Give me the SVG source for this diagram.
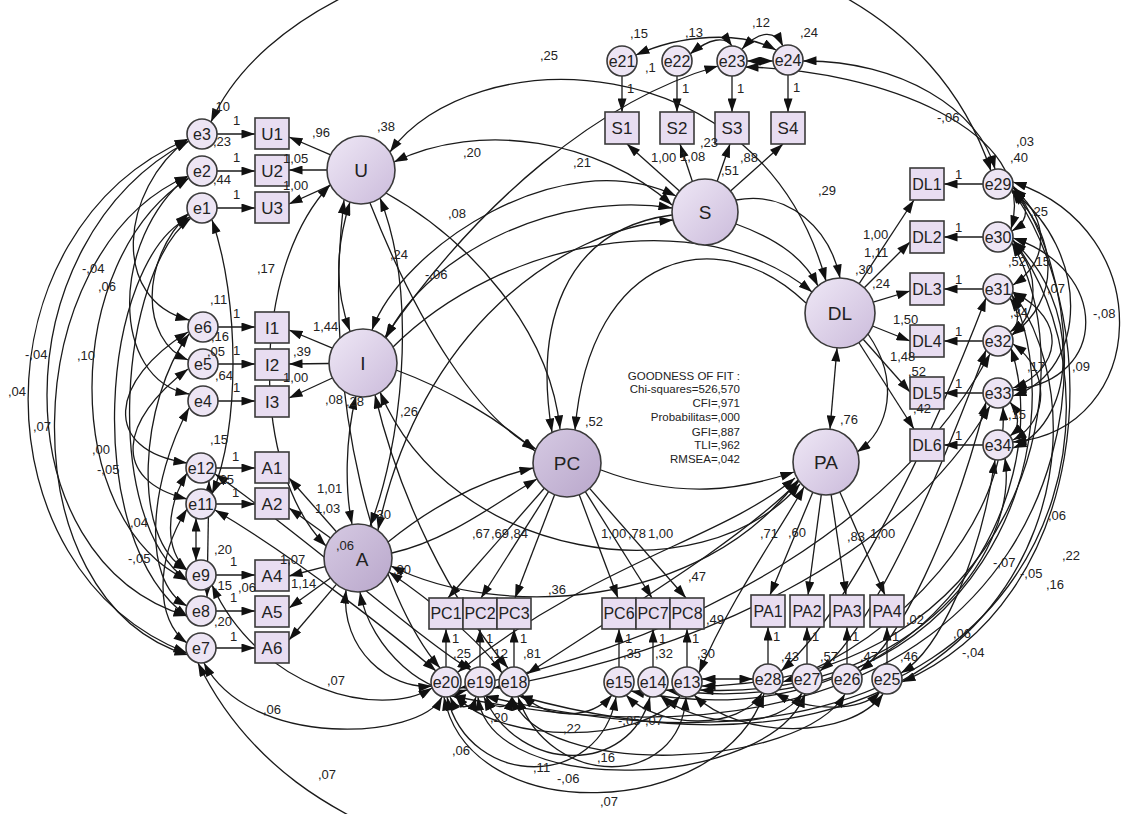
<svg xmlns="http://www.w3.org/2000/svg" width="1125" height="814" viewBox="0 0 1125 814">
<defs>
<marker id="ah" viewBox="0 0 12 8" refX="12" refY="4" markerWidth="14" markerHeight="9" markerUnits="userSpaceOnUse" orient="auto-start-reverse"><path d="M0,0L12,4L0,8z" fill="#111"/></marker>
<linearGradient id="lg" x1="0" y1="0" x2="1" y2="1"><stop offset="0" stop-color="#efe8f6"/><stop offset="1" stop-color="#cbbbdb"/></linearGradient>
<linearGradient id="lg2" x1="0" y1="0" x2="1" y2="1"><stop offset="0" stop-color="#d6cae3"/><stop offset="1" stop-color="#b9a7cb"/></linearGradient>
<style>
.c{fill:none;stroke:#1a1a1a;stroke-width:1.3}
.s{marker-end:url(#ah)}
.d{marker-start:url(#ah);marker-end:url(#ah)}
.st{marker-start:url(#ah)}
.bx{fill:#e8ddf1;stroke:#3a3a3a;stroke-width:1.6}
.ec{fill:#ede5f4;stroke:#3a3a3a;stroke-width:1.6}
.lc{fill:url(#lg);stroke:#3a3a3a;stroke-width:1.6}
.lc2{fill:url(#lg2);stroke:#3a3a3a;stroke-width:1.6}
text{font-family:"Liberation Sans",Arial,sans-serif;fill:#222}
.n{font-size:17px;text-anchor:middle}
.n2{font-size:16px;text-anchor:middle}
.e{font-size:16px;text-anchor:middle}
.lv{font-size:19px;text-anchor:middle}
.k{font-size:13px}
.g{font-size:11.5px;text-anchor:end}
</style>
</defs>
<rect width="1125" height="814" fill="#ffffff"/>
<g id="connectors">
<path class="c s" d="M217,134 L255,134"/>
<path class="c s" d="M217,171 L255,171"/>
<path class="c s" d="M217,208 L255,208"/>
<path class="c s" d="M218,327 L255,327"/>
<path class="c s" d="M218,364 L255,364"/>
<path class="c s" d="M218,401 L255,401"/>
<path class="c s" d="M216,468 L255,468"/>
<path class="c s" d="M216,504 L255,504"/>
<path class="c s" d="M216,575 L255,575"/>
<path class="c s" d="M216,611 L255,611"/>
<path class="c s" d="M216,648 L255,648"/>
<path class="c s" d="M622,76 L622,112"/>
<path class="c s" d="M677,76 L677,112"/>
<path class="c s" d="M732,76 L732,112"/>
<path class="c s" d="M788,75 L788,112"/>
<path class="c s" d="M983,184 L944,184"/>
<path class="c s" d="M983,237 L944,237"/>
<path class="c s" d="M983,289 L944,289"/>
<path class="c s" d="M983,341 L944,341"/>
<path class="c s" d="M983,393 L944,393"/>
<path class="c s" d="M983,445 L944,445"/>
<path class="c s" d="M446,667 L446,629"/>
<path class="c s" d="M480,667 L480,629"/>
<path class="c s" d="M514,667 L514,629"/>
<path class="c s" d="M619,667 L619,629"/>
<path class="c s" d="M653,667 L653,629"/>
<path class="c s" d="M687,667 L687,629"/>
<path class="c s" d="M768,664 L768,627"/>
<path class="c s" d="M807,664 L807,627"/>
<path class="c s" d="M847,664 L847,627"/>
<path class="c s" d="M887,664 L887,627"/>
<path class="c s" d="M330.6,154.8 L289,137"/>
<path class="c s" d="M327,170 L289,170"/>
<path class="c s" d="M330.6,185.2 L289,204"/>
<path class="c s" d="M332.4,348.1 L289,330"/>
<path class="c s" d="M329,363.5 L289,364"/>
<path class="c s" d="M332.4,378 L289,398"/>
<path class="c s" d="M336.4,531.7 L289,478"/>
<path class="c s" d="M330.5,538 L289,508"/>
<path class="c s" d="M325.1,566.6 L289,576"/>
<path class="c s" d="M330.5,578 L289,608"/>
<path class="c s" d="M336.4,584.3 L289,640"/>
<path class="c s" d="M679.5,191.1 L627,144"/>
<path class="c s" d="M692.4,181.5 L680,144"/>
<path class="c s" d="M717.2,181.3 L730,144"/>
<path class="c s" d="M730.5,191.1 L783,144"/>
<path class="c s" d="M859.2,283.7 L914,200"/>
<path class="c s" d="M864.3,287.7 L910,242"/>
<path class="c s" d="M873.2,302.1 L910,291"/>
<path class="c s" d="M872.5,326 L910,341"/>
<path class="c s" d="M863.2,339.2 L910,392"/>
<path class="c s" d="M858.8,342.5 L914,429"/>
<path class="c s" d="M812.8,492.3 L770,595"/>
<path class="c s" d="M821.3,494.7 L808,595"/>
<path class="c s" d="M831.1,494.6 L846,595"/>
<path class="c s" d="M839.8,492 L885,595"/>
<path class="c s" d="M544.3,488.3 L448,598"/>
<path class="c s" d="M548.6,491.6 L481,598"/>
<path class="c s" d="M554.6,494.7 L515,598"/>
<path class="c s" d="M579.2,494.7 L618,598"/>
<path class="c s" d="M585.3,491.7 L652,598"/>
<path class="c s" d="M589.6,488.4 L686,598"/>
<path class="c s" d="M386,193 C470,240 550,330 560,429"/>
<path class="c s" d="M672,215 C560,230 535,330 552,432"/>
<path class="c s" d="M806,303 C720,220 590,250 575,430"/>
<path class="c s" d="M396,370 C450,390 500,420 535,451"/>
<path class="c s" d="M388,542 C440,500 490,478 533,468"/>
<path class="c s" d="M370,203 C420,330 480,420 536,449"/>
<path class="c s" d="M392,553 C450,540 500,500 537,479"/>
<path class="c d" d="M386,338 C430,250 560,190 672,208"/>
<path class="c d" d="M372,330 C400,250 560,140 676,196"/>
<path class="c d" d="M394,162 C480,120 600,140 672,205"/>
<path class="c d" d="M390,152 C470,40 760,40 826,281"/>
<path class="c d" d="M378,530 C420,330 560,230 673,220"/>
<path class="c d" d="M350,202 C335,250 335,290 350,331"/>
<path class="c d" d="M330,185 C250,270 250,470 326,546"/>
<path class="c d" d="M356,396 C345,440 345,490 352,524"/>
<path class="c d" d="M380,198 C420,300 400,450 370,526"/>
<path class="c s" d="M393,347 C500,240 700,200 812,292"/>
<path class="c s" d="M736,224 C780,240 805,260 818,286"/>
<path class="c s" d="M736,200 C790,190 830,230 840,278"/>
<path class="c d" d="M837,348 L830,429"/>
<path class="c s" d="M868,334 C900,380 890,430 857,452"/>
<path class="c s" d="M601,470 C680,500 740,490 794,472"/>
<path class="c d" d="M391,566 C500,620 700,610 798,480"/>
<path class="c d" d="M380,392 C450,560 700,600 800,484"/>
<path class="c d" d="M718,66 C600,100 480,200 385,337"/>
<path class="c d" d="M188,139 C-25,230 -25,570 187,653"/>
<path class="c d" d="M189,141 C0,240 0,560 187,616"/>
<path class="c d" d="M188,176 C15,250 5,600 188,655"/>
<path class="c d" d="M189,178 C60,260 60,520 187,580"/>
<path class="c d" d="M190,217 C100,260 80,540 188,617"/>
<path class="c d" d="M191,218 C120,270 100,520 188,581"/>
<path class="c d" d="M188,139 C120,190 110,300 189,320"/>
<path class="c d" d="M188,176 C110,240 110,380 189,394"/>
<path class="c d" d="M189,213 C140,260 140,340 188,360"/>
<path class="c d" d="M188,332 C110,380 100,450 187,463"/>
<path class="c d" d="M188,369 C120,420 110,480 187,499"/>
<path class="c d" d="M189,334 C140,400 130,540 187,570"/>
<path class="c d" d="M189,408 C150,480 140,580 187,606"/>
<path class="c d" d="M187,473 C165,510 165,550 187,570"/>
<path class="c d" d="M187,509 C155,560 155,620 187,643"/>
<path class="c d" d="M196,518 L196,561"/>
<path class="c d" d="M209,481 L207,597"/>
<path class="c d" d="M212,220 C240,300 240,430 212,494"/>
<path class="c d" d="M215,510 C300,560 400,640 436,671"/>
<path class="c d" d="M215,474 C310,540 420,640 471,670"/>
<path class="c d" d="M212,585 C260,690 380,720 432,688"/>
<path class="c d" d="M204,663 C250,750 420,740 442,697"/>
<path class="c st" d="M198,663 C250,770 340,814 400,840"/>
<path class="c d" d="M346,590 C340,650 390,690 432,686"/>
<path class="c d" d="M360,592 C370,650 430,700 467,690"/>
<path class="c d" d="M389,572 C430,600 480,640 502,673"/>
<path class="c d" d="M375,395 C400,500 450,600 508,668"/>
<path class="c d" d="M344,200 C320,400 380,600 440,668"/>
<path class="c d" d="M1012,190 C1110,330 1090,600 902,682"/>
<path class="c d" d="M1012,243 C1090,380 1020,680 702,686"/>
<path class="c d" d="M1012,295 C1080,440 980,730 666,690"/>
<path class="c d" d="M1011,348 C1060,500 920,750 631,691"/>
<path class="c d" d="M1013,186 C1140,360 1060,820 452,696"/>
<path class="c d" d="M1013,240 C1150,420 1040,830 485,696"/>
<path class="c d" d="M1013,292 C1130,460 1000,830 519,696"/>
<path class="c d" d="M995,460 C980,560 940,650 901,673"/>
<path class="c d" d="M986,402 C950,540 900,640 860,671"/>
<path class="c d" d="M986,350 C930,500 870,630 820,671"/>
<path class="c d" d="M986,298 C920,470 840,620 781,671"/>
<path class="c d" d="M1003,407 C1010,520 900,640 783,682"/>
<path class="c d" d="M1005,458 C1020,560 900,700 700,690"/>
<path class="c d" d="M990,354 C900,520 700,640 460,688"/>
<path class="c d" d="M990,406 C900,560 700,650 494,688"/>
<path class="c d" d="M1012,190 C1030,205 1030,220 1012,231"/>
<path class="c d" d="M1013,188 C1050,220 1050,260 1013,285"/>
<path class="c d" d="M1012,192 C1060,240 1060,300 1012,335"/>
<path class="c d" d="M1013,182 C1160,230 1150,430 1013,442"/>
<path class="c d" d="M1013,238 C1110,270 1110,380 1013,390"/>
<path class="c d" d="M1012,243 C1040,270 1040,310 1012,335"/>
<path class="c d" d="M1013,292 C1070,320 1060,370 1013,388"/>
<path class="c d" d="M1010,298 C1020,312 1020,325 1010,332"/>
<path class="c d" d="M1013,344 C1050,370 1050,420 1013,440"/>
<path class="c d" d="M1010,402 C1020,415 1020,428 1010,436"/>
<path class="c d" d="M1013,241 C1080,300 1080,420 1013,448"/>
<path class="c d" d="M1012,191 C1090,250 1090,370 1013,396"/>
<path class="c d" d="M211,122 C310,-100 880,-160 991,171"/>
<path class="c d" d="M803,61 C900,60 980,110 995,169"/>
<path class="c d" d="M745,67 C880,70 1040,130 1011,229"/>
<path class="c d" d="M636,55 C680,35 740,30 776,50"/>
<path class="c d" d="M690,54 C710,38 725,36 732,46"/>
<path class="c d" d="M747,61 L773,61"/>
<path class="c d" d="M742,49 C760,30 775,30 783,46"/>
<path class="c d" d="M455,695 C500,745 640,745 680,696"/>
<path class="c d" d="M484,697 C520,775 630,775 650,697"/>
<path class="c d" d="M447,697 C470,790 600,790 616,697"/>
<path class="c d" d="M518,697 C550,790 680,790 686,697"/>
<path class="c d" d="M444,697 C470,830 720,820 764,694"/>
<path class="c d" d="M478,697 C490,800 770,790 805,694"/>
<path class="c d" d="M512,697 C540,780 800,770 845,694"/>
<path class="c d" d="M522,695 C550,720 590,720 612,695"/>
<path class="c d" d="M626,695 C660,730 740,730 762,693"/>
<path class="c d" d="M660,695 C700,730 780,730 802,693"/>
<path class="c d" d="M694,695 C740,740 850,740 883,694"/>
<path class="c d" d="M775,693 C810,712 860,712 880,692"/>
<path class="c d" d="M486,696 C492,710 508,710 512,697"/>
<path class="c d" d="M450,697 C456,710 472,710 476,697"/>
<path class="c d" d="M458,672 C600,560 720,540 795,478"/>
<path class="c d" d="M527,674 C640,600 740,540 799,481"/>
<path class="c d" d="M699,673 C730,600 780,530 804,487"/>
<path class="c d" d="M702,679 L753,679"/>
</g>
<g id="nodes">
<g id="U"><circle class="lc" cx="361" cy="170" r="34"/><text class="lv" x="361" y="177">U</text></g>
<g id="I"><circle class="lc" cx="363" cy="363" r="34"/><text class="lv" x="363" y="370">I</text></g>
<g id="A"><circle class="lc2" cx="358" cy="558" r="34"/><text class="lv" x="362" y="566">A</text></g>
<g id="PC"><circle class="lc2" cx="567" cy="463" r="34"/><text class="lv" x="567" y="470">PC</text></g>
<g id="S"><circle class="lc" cx="705" cy="212" r="33"/><text class="lv" x="705" y="219">S</text></g>
<g id="DL"><circle class="lc" cx="840" cy="313" r="35"/><text class="lv" x="840" y="320">DL</text></g>
<g id="PA"><circle class="lc" cx="826" cy="462" r="33"/><text class="lv" x="826" y="469">PA</text></g>
<g id="U1"><rect class="bx" x="255" y="118" width="34" height="31"/><text class="n" x="272" y="140">U1</text></g>
<g id="U2"><rect class="bx" x="255" y="155" width="34" height="31"/><text class="n" x="272" y="177">U2</text></g>
<g id="U3"><rect class="bx" x="255" y="192" width="34" height="31"/><text class="n" x="272" y="214">U3</text></g>
<g id="I1"><rect class="bx" x="255" y="312" width="34" height="31"/><text class="n" x="272" y="334">I1</text></g>
<g id="I2"><rect class="bx" x="255" y="349" width="34" height="31"/><text class="n" x="272" y="371">I2</text></g>
<g id="I3"><rect class="bx" x="255" y="386" width="34" height="31"/><text class="n" x="272" y="408">I3</text></g>
<g id="A1"><rect class="bx" x="255" y="452" width="34" height="31"/><text class="n" x="272" y="474">A1</text></g>
<g id="A2"><rect class="bx" x="255" y="488" width="34" height="31"/><text class="n" x="272" y="510">A2</text></g>
<g id="A4"><rect class="bx" x="255" y="560" width="34" height="31"/><text class="n" x="272" y="582">A4</text></g>
<g id="A5"><rect class="bx" x="255" y="596" width="34" height="31"/><text class="n" x="272" y="618">A5</text></g>
<g id="A6"><rect class="bx" x="255" y="632" width="34" height="31"/><text class="n" x="272" y="654">A6</text></g>
<g id="S1"><rect class="bx" x="605" y="112" width="34" height="32"/><text class="n" x="622" y="134">S1</text></g>
<g id="S2"><rect class="bx" x="660" y="112" width="34" height="32"/><text class="n" x="677" y="134">S2</text></g>
<g id="S3"><rect class="bx" x="715" y="112" width="34" height="32"/><text class="n" x="732" y="134">S3</text></g>
<g id="S4"><rect class="bx" x="771" y="112" width="34" height="32"/><text class="n" x="788" y="134">S4</text></g>
<g id="DL1"><rect class="bx" x="910" y="168" width="34" height="32"/><text class="n2" x="927" y="190">DL1</text></g>
<g id="DL2"><rect class="bx" x="910" y="221" width="34" height="32"/><text class="n2" x="927" y="243">DL2</text></g>
<g id="DL3"><rect class="bx" x="910" y="273" width="34" height="32"/><text class="n2" x="927" y="295">DL3</text></g>
<g id="DL4"><rect class="bx" x="910" y="325" width="34" height="32"/><text class="n2" x="927" y="347">DL4</text></g>
<g id="DL5"><rect class="bx" x="910" y="377" width="34" height="32"/><text class="n2" x="927" y="399">DL5</text></g>
<g id="DL6"><rect class="bx" x="910" y="429" width="34" height="32"/><text class="n2" x="927" y="451">DL6</text></g>
<g id="PC1"><rect class="bx" x="429" y="598" width="34" height="31"/><text class="n2" x="446" y="619">PC1</text></g>
<g id="PC2"><rect class="bx" x="463" y="598" width="34" height="31"/><text class="n2" x="480" y="619">PC2</text></g>
<g id="PC3"><rect class="bx" x="497" y="598" width="34" height="31"/><text class="n2" x="514" y="619">PC3</text></g>
<g id="PC6"><rect class="bx" x="602" y="598" width="34" height="31"/><text class="n2" x="619" y="619">PC6</text></g>
<g id="PC7"><rect class="bx" x="636" y="598" width="34" height="31"/><text class="n2" x="653" y="619">PC7</text></g>
<g id="PC8"><rect class="bx" x="670" y="598" width="34" height="31"/><text class="n2" x="687" y="619">PC8</text></g>
<g id="PA1"><rect class="bx" x="751" y="595" width="34" height="32"/><text class="n2" x="768" y="617">PA1</text></g>
<g id="PA2"><rect class="bx" x="790" y="595" width="34" height="32"/><text class="n2" x="807" y="617">PA2</text></g>
<g id="PA3"><rect class="bx" x="830" y="595" width="34" height="32"/><text class="n2" x="847" y="617">PA3</text></g>
<g id="PA4"><rect class="bx" x="870" y="595" width="34" height="32"/><text class="n2" x="887" y="617">PA4</text></g>
<g id="e3"><circle class="ec" cx="202" cy="134" r="15"/><text class="e" x="202" y="140">e3</text></g>
<g id="e2"><circle class="ec" cx="202" cy="171" r="15"/><text class="e" x="202" y="177">e2</text></g>
<g id="e1"><circle class="ec" cx="202" cy="208" r="15"/><text class="e" x="202" y="214">e1</text></g>
<g id="e6"><circle class="ec" cx="203" cy="327" r="15"/><text class="e" x="203" y="333">e6</text></g>
<g id="e5"><circle class="ec" cx="203" cy="364" r="15"/><text class="e" x="203" y="370">e5</text></g>
<g id="e4"><circle class="ec" cx="203" cy="401" r="15"/><text class="e" x="203" y="407">e4</text></g>
<g id="e12"><circle class="ec" cx="201" cy="468" r="15"/><text class="e" x="201" y="474">e12</text></g>
<g id="e11"><circle class="ec" cx="201" cy="504" r="15"/><text class="e" x="201" y="510">e11</text></g>
<g id="e9"><circle class="ec" cx="201" cy="575" r="15"/><text class="e" x="201" y="581">e9</text></g>
<g id="e8"><circle class="ec" cx="201" cy="611" r="15"/><text class="e" x="201" y="617">e8</text></g>
<g id="e7"><circle class="ec" cx="201" cy="648" r="15"/><text class="e" x="201" y="654">e7</text></g>
<g id="e21"><circle class="ec" cx="622" cy="61" r="15"/><text class="e" x="622" y="67">e21</text></g>
<g id="e22"><circle class="ec" cx="677" cy="61" r="15"/><text class="e" x="677" y="67">e22</text></g>
<g id="e23"><circle class="ec" cx="732" cy="61" r="15"/><text class="e" x="732" y="67">e23</text></g>
<g id="e24"><circle class="ec" cx="788" cy="60" r="15"/><text class="e" x="788" y="66">e24</text></g>
<g id="e29"><circle class="ec" cx="998" cy="184" r="15"/><text class="e" x="998" y="190">e29</text></g>
<g id="e30"><circle class="ec" cx="998" cy="237" r="15"/><text class="e" x="998" y="243">e30</text></g>
<g id="e31"><circle class="ec" cx="998" cy="289" r="15"/><text class="e" x="998" y="295">e31</text></g>
<g id="e32"><circle class="ec" cx="998" cy="341" r="15"/><text class="e" x="998" y="347">e32</text></g>
<g id="e33"><circle class="ec" cx="998" cy="393" r="15"/><text class="e" x="998" y="399">e33</text></g>
<g id="e34"><circle class="ec" cx="998" cy="445" r="15"/><text class="e" x="998" y="451">e34</text></g>
<g id="e20"><circle class="ec" cx="446" cy="682" r="15"/><text class="e" x="446" y="688">e20</text></g>
<g id="e19"><circle class="ec" cx="480" cy="682" r="15"/><text class="e" x="480" y="688">e19</text></g>
<g id="e18"><circle class="ec" cx="514" cy="682" r="15"/><text class="e" x="514" y="688">e18</text></g>
<g id="e15"><circle class="ec" cx="619" cy="682" r="15"/><text class="e" x="619" y="688">e15</text></g>
<g id="e14"><circle class="ec" cx="653" cy="682" r="15"/><text class="e" x="653" y="688">e14</text></g>
<g id="e13"><circle class="ec" cx="687" cy="682" r="15"/><text class="e" x="687" y="688">e13</text></g>
<g id="e28"><circle class="ec" cx="768" cy="679" r="15"/><text class="e" x="768" y="685">e28</text></g>
<g id="e27"><circle class="ec" cx="807" cy="679" r="15"/><text class="e" x="807" y="685">e27</text></g>
<g id="e26"><circle class="ec" cx="847" cy="679" r="15"/><text class="e" x="847" y="685">e26</text></g>
<g id="e25"><circle class="ec" cx="887" cy="679" r="15"/><text class="e" x="887" y="685">e25</text></g>
</g>
<g id="labels">
<text class="k" x="212" y="111">,10</text><text class="k" x="233" y="125">1</text><text class="k" x="213" y="146">,23</text>
<text class="k" x="233" y="162">1</text><text class="k" x="213" y="184">,44</text><text class="k" x="233" y="199">1</text>
<text class="k" x="312" y="137">,96</text><text class="k" x="283" y="163">1,05</text><text class="k" x="283" y="190">1,00</text><text class="k" x="377" y="131">,38</text>
<text class="k" x="390" y="259">,24</text><text class="k" x="257" y="273">,17</text><text class="k" x="210" y="304">,11</text>
<text class="k" x="233" y="318">1</text><text class="k" x="211" y="341">,16</text><text class="k" x="233" y="355">1</text>
<text class="k" x="207" y="356">,05</text><text class="k" x="215" y="380">,64</text><text class="k" x="233" y="392">1</text>
<text class="k" x="313" y="331">1,44</text><text class="k" x="293" y="356">,39</text><text class="k" x="283" y="382">1,00</text>
<text class="k" x="325" y="404">,08</text><text class="k" x="346" y="406">,28</text><text class="k" x="400" y="416">,26</text><text class="k" x="425" y="279">-,06</text>
<text class="k" x="210" y="444">,15</text><text class="k" x="232" y="461">1</text><text class="k" x="216" y="484">,25</text><text class="k" x="232" y="497">1</text>
<text class="k" x="317" y="493">1,01</text><text class="k" x="315" y="513">1,03</text><text class="k" x="373" y="519">,30</text>
<text class="k" x="214" y="554">,20</text><text class="k" x="230" y="566">1</text><text class="k" x="214" y="590">,15</text><text class="k" x="230" y="602">1</text>
<text class="k" x="238" y="592">,06</text><text class="k" x="214" y="626">,20</text><text class="k" x="230" y="641">1</text>
<text class="k" x="280" y="564">1,07</text><text class="k" x="291" y="588">1,14</text><text class="k" x="336" y="550">,06</text><text class="k" x="393" y="574">,20</text>
<text class="k" x="327" y="685">,07</text><text class="k" x="263" y="714">,06</text><text class="k" x="318" y="779">,07</text>
<text class="k" x="82" y="273">-,04</text><text class="k" x="98" y="291">,06</text><text class="k" x="25" y="359">-,04</text><text class="k" x="77" y="360">,10</text>
<text class="k" x="8" y="396">,04</text><text class="k" x="33" y="431">,07</text><text class="k" x="92" y="454">,00</text><text class="k" x="97" y="474">-,05</text>
<text class="k" x="130" y="527">,04</text><text class="k" x="128" y="563">-,05</text>
<text class="k" x="540" y="60">,25</text><text class="k" x="630" y="38">,15</text><text class="k" x="685" y="37">,13</text><text class="k" x="645" y="72">,1</text>
<text class="k" x="752" y="27">,12</text><text class="k" x="800" y="37">,24</text>
<text class="k" x="627" y="93">1</text><text class="k" x="682" y="93">1</text><text class="k" x="737" y="93">1</text><text class="k" x="793" y="92">1</text>
<text class="k" x="463" y="157">,20</text><text class="k" x="573" y="167">,21</text><text class="k" x="448" y="218">,08</text>
<text class="k" x="651" y="162">1,00</text><text class="k" x="680" y="161">1,08</text><text class="k" x="700" y="147">,23</text><text class="k" x="740" y="162">,88</text><text class="k" x="721" y="175">,51</text>
<text class="k" x="818" y="195">,29</text><text class="k" x="937" y="122">-,06</text><text class="k" x="1016" y="146">,03</text><text class="k" x="1010" y="162">,40</text>
<text class="k" x="955" y="179">1</text><text class="k" x="955" y="232">1</text><text class="k" x="955" y="284">1</text><text class="k" x="955" y="336">1</text><text class="k" x="955" y="388">1</text><text class="k" x="955" y="440">1</text>
<text class="k" x="1030" y="216">,25</text><text class="k" x="863" y="239">1,00</text><text class="k" x="864" y="257">1,11</text><text class="k" x="855" y="274">,30</text><text class="k" x="872" y="288">,24</text>
<text class="k" x="1008" y="266">,52</text><text class="k" x="1032" y="266">,15</text><text class="k" x="1047" y="293">,07</text><text class="k" x="1010" y="317">,34</text><text class="k" x="1093" y="318">-,08</text>
<text class="k" x="893" y="324">1,50</text><text class="k" x="890" y="361">1,48</text><text class="k" x="908" y="376">,52</text><text class="k" x="1027" y="371">,17</text><text class="k" x="1072" y="371">,09</text>
<text class="k" x="913" y="413">,42</text><text class="k" x="1008" y="419">,15</text><text class="k" x="840" y="424">,76</text><text class="k" x="585" y="426">,52</text>
<text class="k" x="1048" y="520">,06</text><text class="k" x="1062" y="560">,22</text><text class="k" x="993" y="567">-,07</text><text class="k" x="1020" y="578">-,05</text><text class="k" x="1046" y="589">,16</text>
<text class="k" x="953" y="638">,06</text><text class="k" x="962" y="657">-,04</text>
<text class="k" x="760" y="538">,71</text><text class="k" x="788" y="537">,60</text><text class="k" x="847" y="541">,83</text><text class="k" x="870" y="538">1,00</text>
<text class="k" x="773" y="641">1</text><text class="k" x="812" y="641">1</text><text class="k" x="852" y="641">1</text><text class="k" x="892" y="641">1</text>
<text class="k" x="781" y="661">,43</text><text class="k" x="820" y="661">,57</text><text class="k" x="860" y="661">,47</text><text class="k" x="900" y="661">,46</text><text class="k" x="906" y="624">,02</text>
<text class="k" x="472" y="538">,67</text><text class="k" x="491" y="538">,69</text><text class="k" x="510" y="538">,84</text>
<text class="k" x="601" y="538">1,00</text><text class="k" x="628" y="538">,78</text><text class="k" x="648" y="538">1,00</text>
<text class="k" x="548" y="594">,36</text><text class="k" x="688" y="581">,47</text><text class="k" x="706" y="624">,49</text>
<text class="k" x="452" y="643">1</text><text class="k" x="486" y="643">1</text><text class="k" x="520" y="643">1</text><text class="k" x="625" y="643">1</text><text class="k" x="659" y="643">1</text><text class="k" x="692" y="643">1</text>
<text class="k" x="453" y="658">,25</text><text class="k" x="490" y="658">,12</text><text class="k" x="523" y="658">,81</text><text class="k" x="623" y="658">,35</text><text class="k" x="655" y="658">,32</text><text class="k" x="697" y="658">,30</text>
<text class="k" x="490" y="722">,20</text><text class="k" x="618" y="725">-,05</text><text class="k" x="645" y="725">,07</text>
<text class="k" x="563" y="733">,22</text><text class="k" x="597" y="762">,16</text><text class="k" x="533" y="772">,11</text><text class="k" x="557" y="783">-,06</text><text class="k" x="600" y="806">,07</text><text class="k" x="452" y="755">,06</text>
</g>
<g id="fit">
<text class="g" x="740" y="380">GOODNESS OF FIT :</text>
<text class="g" x="740" y="393">Chi-squares=526,570</text>
<text class="g" x="740" y="407">CFI=,971</text>
<text class="g" x="740" y="421">Probabilitas=,000</text>
<text class="g" x="740" y="436">GFI=,887</text>
<text class="g" x="740" y="449">TLI=,962</text>
<text class="g" x="740" y="463">RMSEA=,042</text>
</g>
</svg>
